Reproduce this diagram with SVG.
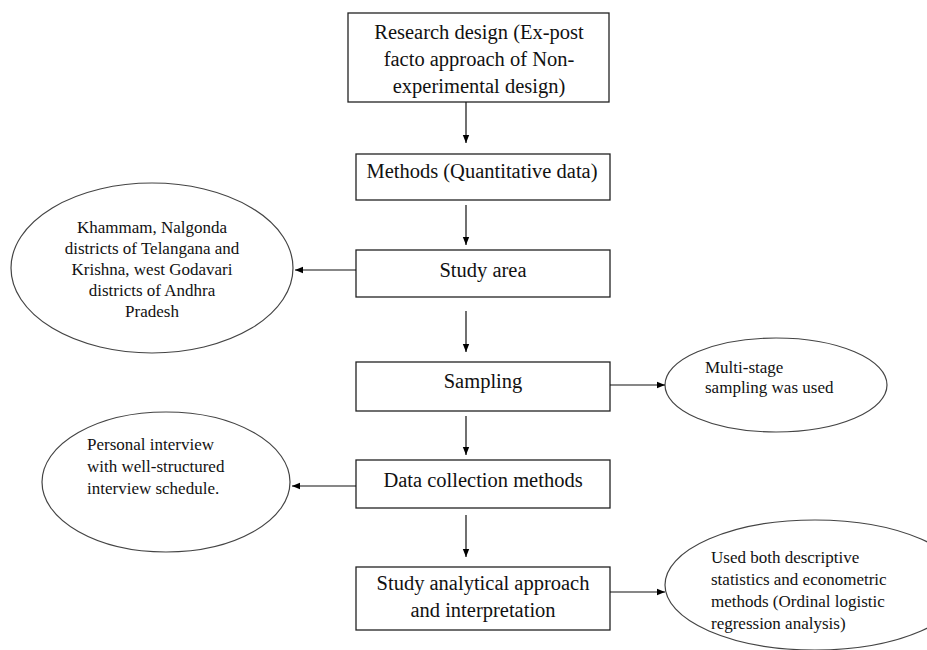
<svg xmlns="http://www.w3.org/2000/svg" width="927" height="650" viewBox="0 0 927 650">
<defs>
<marker id="ah" viewBox="0 0 10 10" refX="10" refY="5" markerWidth="8" markerHeight="8" markerUnits="userSpaceOnUse" orient="auto">
<path d="M0,1 L10,5 L0,9 z" fill="#000"/>
</marker>
<style>
.box{fill:#fff;stroke:#222;stroke-width:1.3}
.ell{fill:#fff;stroke:#444;stroke-width:1.2}
.t{font-family:"Liberation Serif","Times New Roman",serif;font-size:20.5px;fill:#111;text-anchor:middle}
.s{font-family:"Liberation Serif","Times New Roman",serif;font-size:17px;fill:#111}
.c{text-anchor:middle}
.con line{stroke:#111;stroke-width:1.2;marker-end:url(#ah)}
</style>
</defs>
<rect width="927" height="650" fill="#fff"/>
<g id="n1"><rect class="box" x="348" y="13" width="261" height="89"/>
<text class="t" x="479" y="39">Research design (Ex-post</text>
<text class="t" x="479" y="66">facto approach of Non-</text>
<text class="t" x="479" y="93">experimental design)</text></g>
<g id="n2"><rect class="box" x="356" y="154" width="254" height="46"/>
<text class="t" x="482" y="178">Methods (Quantitative data)</text></g>
<g id="n3"><rect class="box" x="356" y="250" width="254" height="47"/>
<text class="t" x="483" y="277">Study area</text></g>
<g id="n4"><rect class="box" x="356" y="362" width="254" height="49"/>
<text class="t" x="483" y="388">Sampling</text></g>
<g id="n5"><rect class="box" x="356" y="460" width="254" height="48"/>
<text class="t" x="483" y="487">Data collection methods</text></g>
<g id="n6"><rect class="box" x="356" y="567" width="254" height="63"/>
<text class="t" x="483" y="590">Study analytical approach</text>
<text class="t" x="483" y="617">and interpretation</text></g>
<g id="e1"><ellipse class="ell" cx="152" cy="268" rx="141" ry="85"/>
<text class="s c" x="152" y="233">Khammam, Nalgonda</text>
<text class="s c" x="152" y="254">districts of Telangana and</text>
<text class="s c" x="152" y="275">Krishna, west Godavari</text>
<text class="s c" x="152" y="296">districts of Andhra</text>
<text class="s c" x="152" y="317">Pradesh</text></g>
<g id="e2"><ellipse class="ell" cx="776" cy="385" rx="111" ry="47"/>
<text class="s" x="705" y="373">Multi-stage</text>
<text class="s" x="705" y="393">sampling was used</text></g>
<g id="e3"><ellipse class="ell" cx="166" cy="482" rx="124" ry="70"/>
<text class="s" x="87" y="450">Personal interview</text>
<text class="s" x="87" y="472">with well-structured</text>
<text class="s" x="87" y="494">interview schedule.</text></g>
<g id="e4"><ellipse class="ell" cx="815" cy="585" rx="150" ry="65"/>
<text class="s" x="711" y="563">Used both descriptive</text>
<text class="s" x="711" y="585">statistics and econometric</text>
<text class="s" x="711" y="607">methods (Ordinal logistic</text>
<text class="s" x="711" y="629">regression analysis)</text></g>
<g id="connectors" class="con">
<line x1="466" y1="102" x2="466" y2="143"/>
<line x1="466" y1="205" x2="466" y2="245"/>
<line x1="466" y1="311" x2="466" y2="352"/>
<line x1="466" y1="416" x2="466" y2="455"/>
<line x1="466" y1="515" x2="466" y2="557"/>
<line x1="356" y1="270" x2="295" y2="270"/>
<line x1="610" y1="385" x2="665" y2="385"/>
<line x1="356" y1="486" x2="292" y2="486"/>
<line x1="610" y1="592" x2="665" y2="592"/>
</g>
</svg>
